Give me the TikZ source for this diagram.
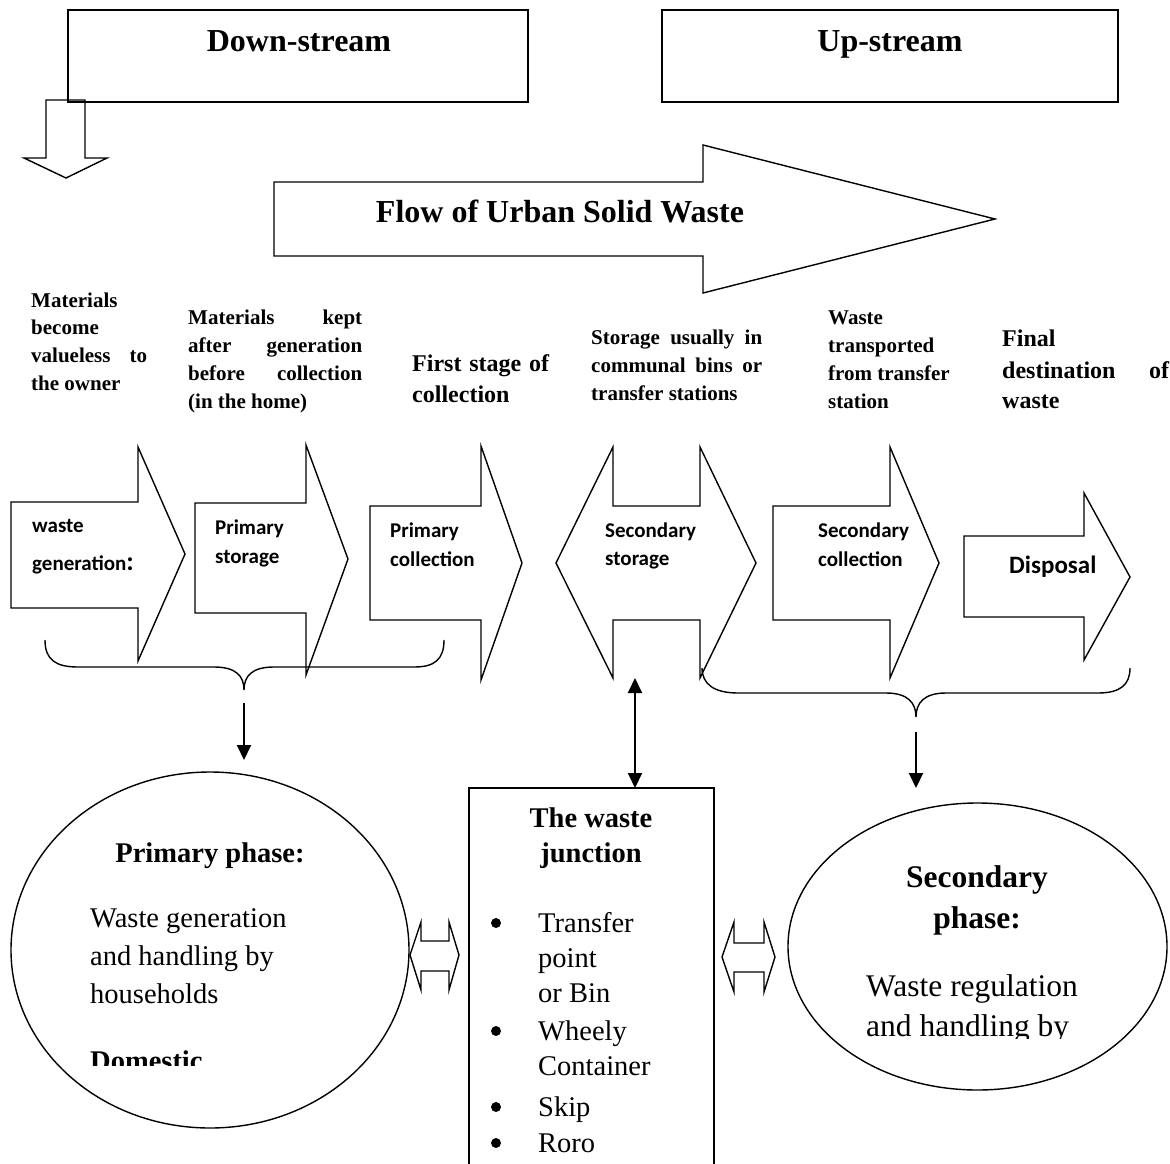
\documentclass[tikz,border=0pt]{standalone}
\usepackage{fontspec}
\setmainfont{Liberation Serif}
\newfontfamily\carl{Carlito}
\usetikzlibrary{shapes.geometric,arrows.meta}
\begin{document}
\begin{tikzpicture}[x=1pt,y=-1pt,
  shp/.style={draw=black, line width=1.4pt, line join=miter},
  brc/.style={draw=black, line width=1.4pt},
  conn/.style={line width=2pt, -{Triangle[length=15pt,width=14pt]}},
  conntwo/.style={line width=2pt, {Triangle[length=15pt,width=14pt]}-{Triangle[length=15pt,width=14pt]}},
  head/.style={anchor=base, inner sep=0pt, font=\bfseries\fontsize{32}{32}\selectfont},
  lbl/.style={anchor=base west, inner sep=0pt, font=\bfseries\fontsize{21}{21}\selectfont},
  lblb/.style={anchor=base west, inner sep=0pt, font=\bfseries\fontsize{24}{24}\selectfont},
  alb/.style={anchor=base west, inner sep=0pt, font=\carl\bfseries\fontsize{21}{21}\selectfont},
  albb/.style={anchor=base west, inner sep=0pt, font=\carl\bfseries\fontsize{25}{25}\selectfont},
  bodyL/.style={anchor=base west, inner sep=0pt, font=\fontsize{28.5}{28.5}\selectfont},
  headL/.style={anchor=base, inner sep=0pt, font=\bfseries\fontsize{28.5}{28.5}\selectfont},
  bodyR/.style={anchor=base west, inner sep=0pt, font=\fontsize{31.5}{31.5}\selectfont},
  headR/.style={anchor=base, inner sep=0pt, font=\bfseries\fontsize{31.5}{31.5}\selectfont},
  phase/.style={ellipse, draw=black, line width=1.4pt, inner sep=0pt},
  bul/.style={circle, fill=black, inner sep=0pt, minimum size=10pt}
]
\useasboundingbox (0,0) rectangle (1170,1164);

% ---- top boxes
\node[shp, minimum width=460pt, minimum height=92pt, inner sep=0pt] (ds) at (298,56) {};
\node[head] (dst) at (299,52) {Down-stream};
\node[shp, minimum width=456pt, minimum height=92pt, inner sep=0pt] (us) at (890,56) {};
\node[head] (ust) at (890,52) {Up-stream};

% hollow down arrow
\draw[shp] (46,100) -- (85,100) -- (85,158) -- (107,158) -- (66,178) -- (24,158) -- (46,158) -- cycle;

% ---- flow arrow
\draw[shp] (274,182) -- (703,182) -- (703,145) -- (995,219) -- (703,293) -- (703,256) -- (274,256) -- cycle;
\node[head] (flow) at (560,222) {Flow of Urban Solid Waste};

% ---- labels above the block arrows
\node[lbl] (l1a) at (31,307) {Materials};
\node[lbl] (l1b) at (31,334) {become};
\node[lbl] (l1c) at (31,362) {\hbox to 116pt{valueless\hfill to}};
\node[lbl] (l1d) at (31,390) {the owner};

\node[lbl] (l2a) at (188,324) {\hbox to 174pt{Materials\hfill kept}};
\node[lbl] (l2b) at (188,352) {\hbox to 174pt{after\hfill generation}};
\node[lbl] (l2c) at (188,380) {\hbox to 174pt{before\hfill collection}};
\node[lbl] (l2d) at (188,408) {(in the home)};

\node[lblb] (l3a) at (412,371) {\hbox to 137pt{First\hfill stage\hfill of}};
\node[lblb] (l3b) at (412,402) {collection};

\node[lbl] (l4a) at (591,344) {\hbox to 171pt{Storage\hfill usually\hfill in}};
\node[lbl] (l4b) at (591,372) {\hbox to 171pt{communal\hfill bins\hfill or}};
\node[lbl] (l4c) at (591,400) {transfer stations};

\node[lbl] (l5a) at (828,324) {Waste};
\node[lbl] (l5b) at (828,352) {transported};
\node[lbl] (l5c) at (828,380) {from transfer};
\node[lbl] (l5d) at (828,408) {station};

\node[lblb] (l6a) at (1002,346) {Final};
\node[lblb] (l6b) at (1002,378) {\hbox to 167pt{destination\hfill of}};
\node[lblb] (l6c) at (1002,408) {waste};

% ---- block arrows
\draw[shp] (11,502) -- (138,502) -- (138,447) -- (185,554) -- (138,661) -- (138,608) -- (11,608) -- cycle;
\draw[shp] (195,503) -- (306,503) -- (306,445) -- (348,559) -- (306,675) -- (306,613) -- (195,613) -- cycle;
\draw[shp] (370,506) -- (481,506) -- (481,446) -- (522,563) -- (481,680) -- (481,620) -- (370,620) -- cycle;
\draw[shp] (556,563) -- (613,447) -- (613,506) -- (700,506) -- (700,447) -- (756,563) -- (700,678) -- (700,620) -- (613,620) -- (613,678) -- cycle;
\draw[shp] (773,506) -- (890,506) -- (890,447) -- (939,563) -- (890,678) -- (890,620) -- (773,620) -- cycle;
\draw[shp] (964,536) -- (1084,536) -- (1084,493) -- (1130,577) -- (1084,660) -- (1084,617) -- (964,617) -- cycle;

\node[alb] (a1a) at (32,532) {waste};
\node[alb] (a1b) at (32,570) {generation{\fontsize{27}{27}\selectfont:}};
\node[alb] (a2a) at (215,534) {Primary};
\node[alb] (a2b) at (215,563) {storage};
\node[alb] (a3a) at (390,537) {Primary};
\node[alb] (a3b) at (390,566) {collection};
\node[alb] (a4a) at (605,537) {Secondary};
\node[alb] (a4b) at (605,565) {storage};
\node[alb] (a5a) at (818,537) {Secondary};
\node[alb] (a5b) at (818,566) {collection};
\node[albb] (a6a) at (1009,573) {Disposal};

% ---- braces
\draw[brc] (45,640) .. controls (45,660) and (56,667) .. (78,667) -- (214,667)
  .. controls (236,667) and (244,676) .. (244,690)
  .. controls (244,676) and (252,667) .. (274,667) -- (414,667)
  .. controls (434,667) and (444,660) .. (444,640);
\draw[brc] (702,668) .. controls (702,684) and (714,693) .. (738,693) -- (886,693)
  .. controls (908,693) and (916,703) .. (916,717)
  .. controls (916,703) and (924,693) .. (946,693) -- (1098,693)
  .. controls (1120,693) and (1130,685) .. (1130,668);
\coordinate (lbt) at (244,690);
\coordinate (rbt) at (916,717);
\coordinate (lbe) at (244,760);
\coordinate (rbe) at (916,788);
\coordinate (a4bot) at (635,678);
\coordinate (wjt) at (635,788);

\draw[conn] ([yshift=-13pt]lbt) -- (lbe);
\draw[conn] ([yshift=-15pt]rbt) -- (rbe);
\draw[conntwo] (a4bot) -- (wjt);

% ---- phase ellipses
\node[phase, minimum width=398pt, minimum height=356pt] (pp) at (210,950) {};
\node[headL] (ppt) at (210,862) {Primary phase:};
\node[bodyL] (pp1) at (90,927) {Waste generation};
\node[bodyL] (pp2) at (90,965) {and handling by};
\node[bodyL] (pp3) at (90,1003) {households};
\begin{scope}
  \clip (80,1030) rectangle (320,1065);
  \node[bodyL, font=\bfseries\fontsize{28.5}{28.5}\selectfont] (pp4) at (90,1070) {Domestic};
\end{scope}

\node[phase, minimum width=379pt, minimum height=287pt] (sp) at (977.5,946.5) {};
\node[headR] (spt1) at (977,887) {Secondary};
\node[headR] (spt2) at (977,928) {phase:};
\node[bodyR] (sp1) at (866,996) {Waste regulation};
\begin{scope}
  \clip (850,1005) rectangle (1110,1038);
  \node[bodyR] (sp2) at (866,1036) {and handling by};
\end{scope}

% ---- waste junction box
\draw[shp] (469,1168) -- (469,788) -- (714,788) -- (714,1168);
\node[headL] (wj1) at (591,827) {The waste};
\node[headL] (wj2) at (591,862) {junction};
\node[bul] (b1) at (496,923) {};
\node[bodyL] (wj3) at (538,932) {Transfer};
\node[bodyL] (wj4) at (538,967) {point};
\node[bodyL] (wj5) at (538,1002) {or Bin};
\node[bul] (b2) at (496,1031) {};
\node[bodyL] (wj6) at (538,1040) {Wheely};
\node[bodyL] (wj7) at (538,1075) {Container};
\node[bul] (b3) at (496,1107) {};
\node[bodyL] (wj8) at (538,1116) {Skip};
\node[bul] (b4) at (496,1143) {};
\node[bodyL] (wj9) at (538,1152) {Roro};

% ---- hollow double arrows
\draw[shp] (410,955) -- (421,922) -- (421,941) -- (449,941) -- (449,922) -- (459,955) -- (449,990) -- (449,971) -- (421,971) -- (421,990) -- cycle;
\draw[shp] (722,957) -- (734,922) -- (734,943) -- (764,943) -- (764,922) -- (775,957) -- (764,992) -- (764,972) -- (734,972) -- (734,992) -- cycle;

\end{tikzpicture}
\end{document}
